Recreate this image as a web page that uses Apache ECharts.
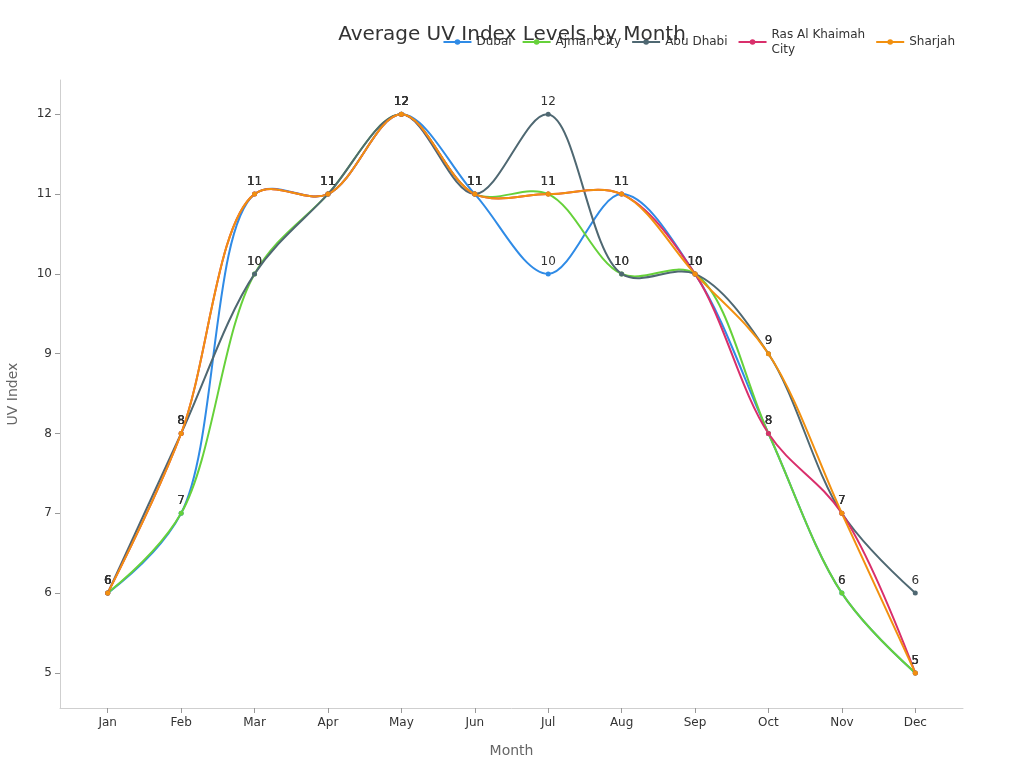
<!DOCTYPE html>
<html>
<head>
<meta charset="utf-8">
<script src="https://cdn.jsdelivr.net/npm/echarts@6/dist/echarts.min.js"></script>
<style>
  html, body { margin: 0; padding: 0; background: #fff; }
  #chart { width: 1024px; height: 768px; }
</style>
</head>
<body>
<div id="chart"></div>
<script>
const months = ['Jan', 'Feb', 'Mar', 'Apr', 'May', 'Jun', 'Jul', 'Aug', 'Sep', 'Oct', 'Nov', 'Dec'];
const yTicks = [5, 6, 7, 8, 9, 10, 11, 12];

const cities = ['Dubai', 'Ajman City', 'Abu Dhabi', 'Ras Al Khaimah City', 'Sharjah'];
const dubai = [6, 7, 11, 11, 12, 11, 10, 11, 10, 8, 6, 5];
const ajman = [6, 7, 10, 11, 12, 11, 11, 10, 10, 8, 6, 5];
const abuDhabi = [6, 8, 10, 11, 12, 11, 12, 10, 10, 9, 7, 6];
const rasAlKhaimah = [6, 8, 11, 11, 12, 11, 11, 11, 10, 8, 7, 5];
const sharjah = [6, 8, 11, 11, 12, 11, 11, 11, 10, 9, 7, 5];
const values = [dubai, ajman, abuDhabi, rasAlKhaimah, sharjah];

const font = 'DejaVu Sans';
const color = ['#2f8be6', '#66d13a', '#4f6872', '#d92f6b', '#f2900f'];

const axisLine = { show: true, onZero: false, lineStyle: { color: '#cfcfcf', width: 1 } };

const pairs = arr => arr.map((v, i) => [i, v]);

// centripetal catmull-rom control points around a point (pixel space)
function tangent(prev, pt, next) {
  const d1x = prev[0] - pt[0], d1y = prev[1] - pt[1];
  const d2x = next[0] - pt[0], d2y = next[1] - pt[1];
  const d1a = Math.pow(d1x * d1x + d1y * d1y, 0.25);
  const d2a = Math.pow(d2x * d2x + d2y * d2y, 0.25);
  const numx = d2a * d2a * d1x - d1a * d1a * d2x;
  const numy = d2a * d2a * d1y - d1a * d1a * d2y;
  const den1 = 3 * d2a * (d1a + d2a);
  const den2 = 3 * d1a * (d1a + d2a);
  return {
    before: [pt[0] + (den1 ? numx / den1 : 0), pt[1] + (den1 ? numy / den1 : 0)],
    after: [pt[0] - (den2 ? numx / den2 : 0), pt[1] - (den2 ? numy / den2 : 0)]
  };
}

const curveSeries = (arr, c) => ({
  type: 'custom',
  silent: true,
  z: 2,
  data: pairs(arr),
  encode: { x: 0, y: 1 },
  itemStyle: { color: c },
  renderItem: (params, api) => {
    const i = params.dataIndex;
    const n = arr.length;
    if (i >= n - 1) return null;
    const pt = k => api.coord([k, arr[k]]);
    const p1 = pt(i), p2 = pt(i + 1);
    let c1, c2;
    if (i === 0) {
      const q = tangent(pt(0), pt(1), pt(2)).before;
      c1 = [p1[0] + 2 / 3 * (q[0] - p1[0]), p1[1] + 2 / 3 * (q[1] - p1[1])];
      c2 = [p2[0] + 2 / 3 * (q[0] - p2[0]), p2[1] + 2 / 3 * (q[1] - p2[1])];
    } else if (i === n - 2) {
      const q = tangent(pt(n - 3), pt(n - 2), pt(n - 1)).after;
      c1 = [p1[0] + 2 / 3 * (q[0] - p1[0]), p1[1] + 2 / 3 * (q[1] - p1[1])];
      c2 = [p2[0] + 2 / 3 * (q[0] - p2[0]), p2[1] + 2 / 3 * (q[1] - p2[1])];
    } else {
      c1 = tangent(pt(i - 1), p1, p2).after;
      c2 = tangent(p1, p2, pt(i + 2)).before;
    }
    return {
      type: 'bezierCurve',
      shape: {
        x1: p1[0], y1: p1[1], x2: p2[0], y2: p2[1],
        cpx1: c1[0], cpy1: c1[1], cpx2: c2[0], cpy2: c2[1]
      },
      style: { stroke: c, lineWidth: 2, fill: null }
    };
  }
});

const pointSeries = (name, arr, c) => ({
  name: name,
  type: 'line',
  z: 3,
  symbol: 'circle',
  symbolSize: 5,
  itemStyle: { color: c },
  lineStyle: { color: c, width: 0, opacity: 0 },
  label: {
    show: true,
    position: 'top',
    distance: 4,
    color: '#333',
    fontSize: 12,
    fontFamily: font
  },
  data: pairs(arr)
});

const series = [];
cities.forEach((name, i) => series.push(curveSeries(values[i], color[i])));
cities.forEach((name, i) => series.push(pointSeries(name, values[i], color[i])));

const chart = echarts.init(document.getElementById('chart'));
chart.setOption({
  animation: false,
  title: {
    text: 'Average UV Index Levels by Month',
    left: 'center',
    top: 20,
    textStyle: { color: '#333', fontSize: 20, fontWeight: 'normal', fontFamily: font }
  },
  legend: {
    data: cities,
    top: 22,
    right: 64,
    itemWidth: 28,
    itemHeight: 7,
    itemGap: 10,
    lineStyle: { width: 2, opacity: 1 },
    textStyle: { color: '#333', fontSize: 12, lineHeight: 15, fontFamily: font },
    formatter: name => name === 'Ras Al Khaimah City' ? 'Ras Al Khaimah\nCity' : name
  },
  grid: { left: 60, right: 61, top: 80, bottom: 60, outerBoundsMode: 'none', containLabel: false },
  xAxis: {
    type: 'value',
    min: -0.65,
    max: 11.65,
    name: 'Month',
    nameLocation: 'middle',
    nameGap: 36,
    nameTextStyle: { color: '#666', fontSize: 14, fontFamily: font },
    axisLine: axisLine,
    axisTick: { show: true, length: 5, lineStyle: { color: '#999' }, customValues: months.map((m, i) => i) },
    axisLabel: {
      color: '#333', fontSize: 12, fontFamily: font, margin: 9,
      customValues: months.map((m, i) => i),
      formatter: v => months[v]
    },
    splitLine: { show: false }
  },
  yAxis: {
    type: 'value',
    min: 4.56,
    max: 12.43,
    name: 'UV Index',
    nameLocation: 'middle',
    nameGap: 40,
    nameTextStyle: { color: '#666', fontSize: 14, fontFamily: font },
    axisLine: axisLine,
    axisTick: { show: true, length: 5, lineStyle: { color: '#999' }, customValues: yTicks },
    axisLabel: { color: '#333', fontSize: 12, fontFamily: font, margin: 8, customValues: yTicks },
    splitLine: { show: false }
  },
  series: series
});
</script>
</body>
</html>
